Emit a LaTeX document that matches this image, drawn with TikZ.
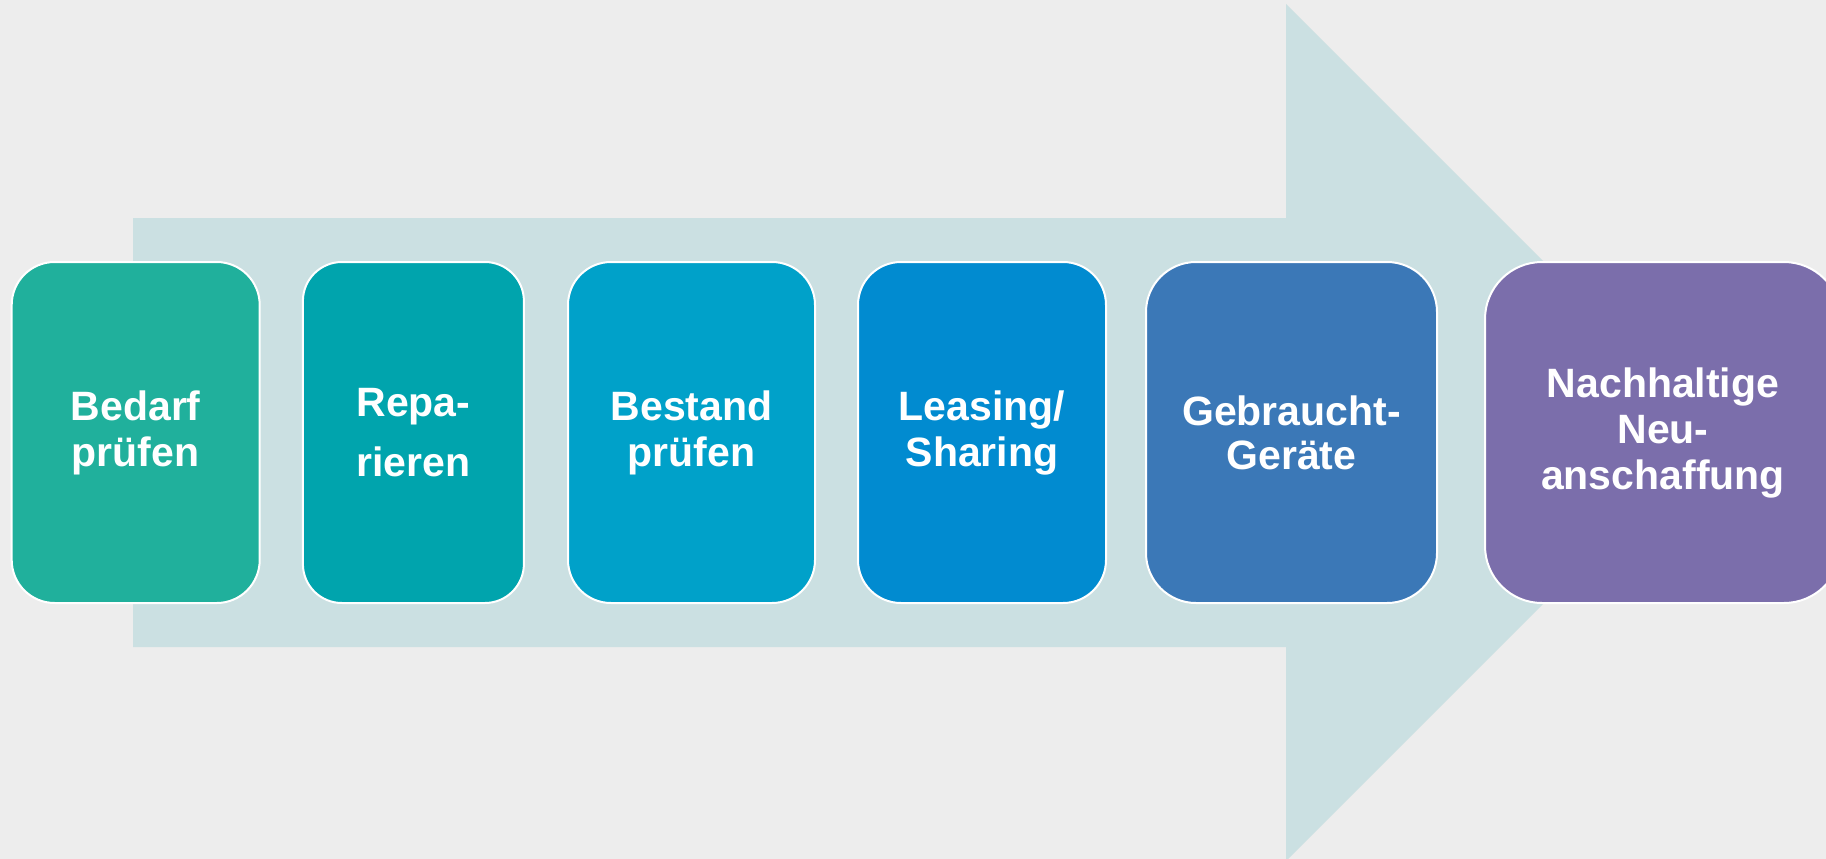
\documentclass[tikz,border=0pt]{standalone}
\usepackage{fontspec}
\setmainfont{Liberation Sans}
\definecolor{bgc}{HTML}{EDEDED}
\definecolor{arrowc}{HTML}{CBE0E2}
\definecolor{cA}{HTML}{20B09C}
\definecolor{cB}{HTML}{00A4AD}
\definecolor{cC}{HTML}{00A1C9}
\definecolor{cD}{HTML}{018BD0}
\definecolor{cE}{HTML}{3B78B7}
\definecolor{cF}{HTML}{7B6EAB}
\tikzset{
  stepbox/.style={draw=white, line width=2pt, text=white, align=center,
    minimum height=341pt, inner sep=0pt,
    font=\fontsize{41}{46}\selectfont\bfseries},
}
\begin{document}
\begin{tikzpicture}[x=1pt,y=-1pt]
\useasboundingbox (0,0) rectangle (1826,859);
\clip (0,0) rectangle (1826,859);
\fill[bgc] (0,0) rectangle (1826,859);
\fill[arrowc] (133,218) -- (1286,218) -- (1286,4) -- (1714.5,432.5) -- (1286,861) -- (1286,647) -- (133,647) -- cycle;
\node[stepbox, fill=cA, minimum width=248pt, rounded corners=43pt] (b1) at (135.7,432.5) {Bedarf\\prüfen};
\node[stepbox, fill=cB, minimum width=221pt, rounded corners=39pt, font=\fontsize{41}{60}\selectfont\bfseries] (b2) at (413.4,432.5) {Repa-\\rieren};
\node[stepbox, fill=cC, minimum width=247pt, rounded corners=43pt] (b3) at (691.5,432.5) {Bestand\\prüfen};
\node[stepbox, fill=cD, minimum width=248pt, rounded corners=43pt] (b4) at (982,432.5) {Leasing/\\Sharing};
\node[stepbox, fill=cE, minimum width=291pt, rounded corners=50pt, font=\fontsize{41}{44}\selectfont\bfseries] (b5) at (1291.5,432.5) {Gebraucht-\\Geräte};
\node[stepbox, fill=cF, minimum width=356pt, rounded corners=57pt, font=\fontsize{41}{46}\selectfont\bfseries] (b6) at (1663,432.5) {\raisebox{-3pt}{\parbox{356pt}{\centering Nachhaltige\\Neu-\\anschaffung}}};
\end{tikzpicture}
\end{document}
